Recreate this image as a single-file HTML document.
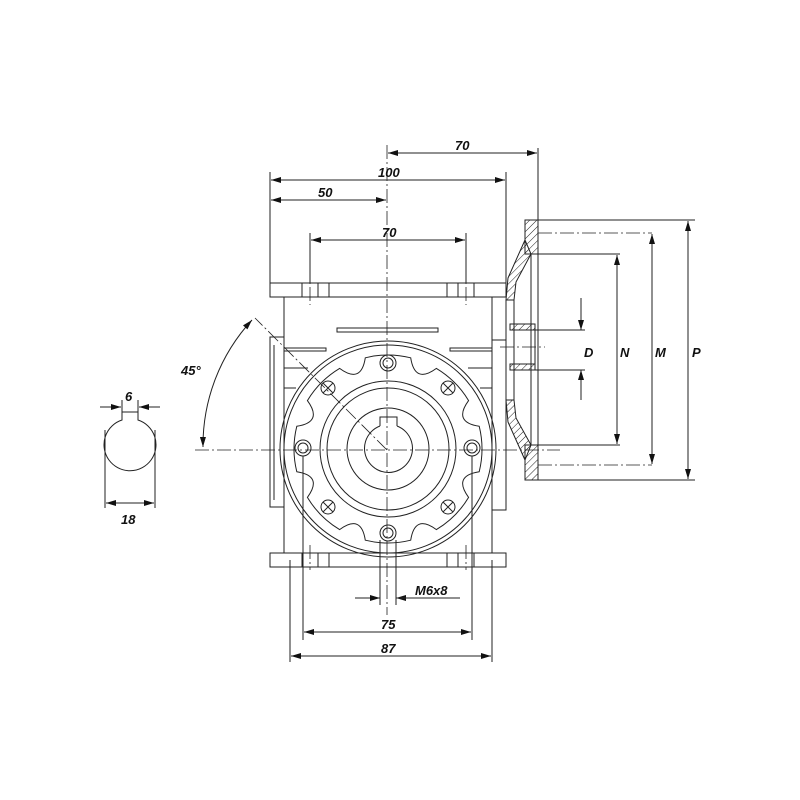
<!DOCTYPE html>
<html><head><meta charset="utf-8"><style>
html,body{margin:0;padding:0;background:#fff}
svg{display:block}
text{font-family:"Liberation Sans",sans-serif;font-style:italic;font-weight:bold;font-size:13px;fill:#111}
</style></head><body>
<svg width="800" height="800" viewBox="0 0 800 800" xmlns="http://www.w3.org/2000/svg">
<defs>
<marker id="a" viewBox="0 0 10 6" refX="10" refY="3" markerWidth="14" markerHeight="6" orient="auto-start-reverse" markerUnits="userSpaceOnUse"><path d="M0,0L10,3L0,6z" fill="#111"/></marker>
<pattern id="h" width="5" height="5" patternUnits="userSpaceOnUse" patternTransform="rotate(45)"><line x1="0" y1="0" x2="0" y2="5" stroke="#222" stroke-width="1"/></pattern>
</defs>
<g fill="none" stroke="#222" stroke-width="1">
<g stroke-dasharray="14,3,2,3" stroke-width="0.8">
<line x1="387" y1="145" x2="387" y2="615"/>
<line x1="195" y1="450" x2="560" y2="450"/>
<line x1="387" y1="450" x2="255" y2="318"/>
<line x1="310" y1="265" x2="310" y2="305"/>
<line x1="466" y1="265" x2="466" y2="305"/>
<line x1="310" y1="545" x2="310" y2="570"/>
<line x1="466" y1="545" x2="466" y2="570"/>
<line x1="538" y1="233" x2="652" y2="233"/>
<line x1="538" y1="465" x2="652" y2="465"/>
<line x1="500" y1="347" x2="545" y2="347"/>
</g>
<rect x="270" y="283" width="236" height="14"/>
<rect x="270" y="553" width="236" height="14"/>
<rect x="284" y="297" width="208" height="256"/>
<rect x="270" y="337" width="14" height="170"/>
<line x1="274" y1="345" x2="274" y2="500"/>
<rect x="492" y="340" width="14" height="170"/>
<rect x="302" y="283" width="27" height="14"/><line x1="318" y1="283" x2="318" y2="297"/>
<rect x="447" y="283" width="27" height="14"/><line x1="458" y1="283" x2="458" y2="297"/>
<rect x="302" y="553" width="27" height="14"/><line x1="318" y1="553" x2="318" y2="567"/>
<rect x="447" y="553" width="27" height="14"/><line x1="458" y1="553" x2="458" y2="567"/>
<rect x="337" y="328" width="101" height="4"/>
<rect x="284" y="348" width="42" height="3"/>
<rect x="450" y="348" width="42" height="3"/>
<line x1="284" y1="368" x2="308" y2="368"/><line x1="468" y1="368" x2="492" y2="368"/>
<line x1="284" y1="388" x2="296" y2="388"/><line x1="480" y1="388" x2="492" y2="388"/>
<circle cx="388" cy="449" r="108"/>
<circle cx="388" cy="449" r="104"/>
<path d="M365.3,357.8 A94,94 0 0 1 410.7,357.8 Q414.8,384.3 436.4,368.4 A94,94 0 0 1 468.6,400.6 Q452.7,422.2 479.2,426.3 A94,94 0 0 1 479.2,471.7 Q452.7,475.8 468.6,497.4 A94,94 0 0 1 436.4,529.6 Q414.8,513.7 410.7,540.2 A94,94 0 0 1 365.3,540.2 Q361.2,513.7 339.6,529.6 A94,94 0 0 1 307.4,497.4 Q323.3,475.8 296.8,471.7 A94,94 0 0 1 296.8,426.3 Q323.3,422.2 307.4,400.6 A94,94 0 0 1 339.6,368.4 Q361.2,384.3 365.3,357.8Z"/>
<circle cx="388" cy="449" r="68"/>
<circle cx="388" cy="449" r="61"/>
<circle cx="388" cy="449" r="41"/>
<path d="M380,426 L380,417 L397,417 L397,426"/>
<path d="M380,426 A24,24 0 1 0 397,426"/>
<g>
<circle cx="388" cy="363" r="8"/><circle cx="388" cy="363" r="5"/>
<circle cx="388" cy="533" r="8"/><circle cx="388" cy="533" r="5"/>
<circle cx="303" cy="448" r="8"/><circle cx="303" cy="448" r="5"/>
<circle cx="472" cy="448" r="8"/><circle cx="472" cy="448" r="5"/>
<circle cx="328" cy="388" r="7"/><circle cx="448" cy="388" r="7"/>
<circle cx="328" cy="507" r="7"/><circle cx="448" cy="507" r="7"/>
<path d="M323,383l10,10M333,383l-10,10M443,383l10,10M453,383l-10,10M323,502l10,10M333,502l-10,10M443,502l10,10M453,502l-10,10"/>
</g>
<!-- flange -->
<rect x="525" y="220" width="13" height="34" fill="url(#h)"/>
<rect x="525" y="445" width="13" height="35" fill="url(#h)"/>
<line x1="538" y1="220" x2="538" y2="480"/>
<path d="M525,240 L508,278 L506,300 L514,300 L516,282 L531,254 Z" fill="url(#h)"/>
<path d="M525,460 L508,422 L506,400 L514,400 L516,418 L531,445 Z" fill="url(#h)"/>
<path d="M506,300 L506,400 M514,300 L514,400"/>
<line x1="531" y1="254" x2="531" y2="445"/>
<rect x="510" y="324" width="25" height="6" fill="url(#h)"/>
<rect x="510" y="364" width="25" height="6" fill="url(#h)"/>
<line x1="535" y1="324" x2="535" y2="370"/>
<line x1="538" y1="220" x2="695" y2="220"/>
<line x1="538" y1="480" x2="695" y2="480"/>
<line x1="531" y1="254" x2="620" y2="254"/>
<line x1="531" y1="445" x2="620" y2="445"/>
<line x1="535" y1="330" x2="585" y2="330"/>
<line x1="535" y1="370" x2="585" y2="370"/>
<line x1="688" y1="221" x2="688" y2="479" marker-start="url(#a)" marker-end="url(#a)"/>
<line x1="652" y1="234" x2="652" y2="464" marker-start="url(#a)" marker-end="url(#a)"/>
<line x1="617" y1="255" x2="617" y2="444" marker-start="url(#a)" marker-end="url(#a)"/>
<line x1="581" y1="298" x2="581" y2="330" marker-end="url(#a)"/>
<line x1="581" y1="400" x2="581" y2="370" marker-end="url(#a)"/>
<line x1="538" y1="148" x2="538" y2="220"/>
<line x1="270" y1="172" x2="270" y2="283"/>
<line x1="506" y1="172" x2="506" y2="283"/>
<line x1="310" y1="233" x2="310" y2="283"/>
<line x1="466" y1="233" x2="466" y2="283"/>
<line x1="388" y1="153" x2="537" y2="153" marker-start="url(#a)" marker-end="url(#a)"/>
<line x1="271" y1="180" x2="505" y2="180" marker-start="url(#a)" marker-end="url(#a)"/>
<line x1="271" y1="200" x2="386" y2="200" marker-start="url(#a)" marker-end="url(#a)"/>
<line x1="311" y1="240" x2="465" y2="240" marker-start="url(#a)" marker-end="url(#a)"/>
<line x1="303" y1="456" x2="303" y2="640"/>
<line x1="472" y1="456" x2="472" y2="640"/>
<line x1="290" y1="560" x2="290" y2="662"/>
<line x1="492" y1="560" x2="492" y2="662"/>
<line x1="304" y1="632" x2="471" y2="632" marker-start="url(#a)" marker-end="url(#a)"/>
<line x1="291" y1="656" x2="491" y2="656" marker-start="url(#a)" marker-end="url(#a)"/>
<line x1="380" y1="540" x2="380" y2="605"/>
<line x1="396" y1="540" x2="396" y2="605"/>
<line x1="355" y1="598" x2="380" y2="598" marker-end="url(#a)"/>
<line x1="420" y1="598" x2="396" y2="598" marker-end="url(#a)"/>
<line x1="396" y1="598" x2="460" y2="598"/>
<path d="M203,447 A185,185 0 0 1 252,320" marker-start="url(#a)" marker-end="url(#a)"/>
<path d="M122,412 L122,420 A26,26 0 1 0 138,420 L138,412 Z"/>
<line x1="105" y1="430" x2="105" y2="508"/>
<line x1="155" y1="430" x2="155" y2="508"/>
<line x1="122" y1="400" x2="122" y2="412"/><line x1="138" y1="400" x2="138" y2="412"/>
<line x1="100" y1="407" x2="121" y2="407" marker-end="url(#a)"/>
<line x1="160" y1="407" x2="139" y2="407" marker-end="url(#a)"/>
<line x1="106" y1="503" x2="154" y2="503" marker-start="url(#a)" marker-end="url(#a)"/>
</g>
<text x="455" y="150">70</text>
<text x="378" y="177">100</text>
<text x="318" y="197">50</text>
<text x="382" y="237">70</text>
<text x="381" y="629">75</text>
<text x="381" y="653">87</text>
<text x="415" y="595">M6x8</text>
<text x="584" y="357">D</text>
<text x="620" y="357">N</text>
<text x="655" y="357">M</text>
<text x="692" y="357">P</text>
<text x="181" y="375">45°</text>
<text x="125" y="401">6</text>
<text x="121" y="524">18</text>
</svg>
</body></html>
